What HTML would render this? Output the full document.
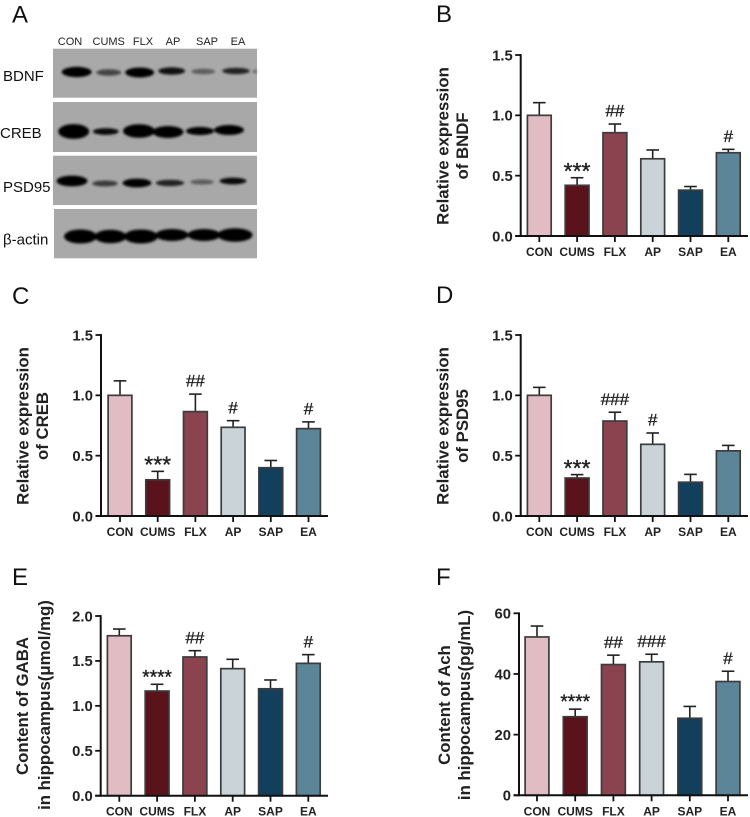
<!DOCTYPE html>
<html lang="en">
<head>
<meta charset="utf-8">
<title>Western blot and bar charts</title>
<style>
html,body{margin:0;padding:0;background:#fff;}
svg{display:block;font-family:"Liberation Sans",Arial,sans-serif;filter:blur(0.35px);}
.letter{font-size:24px;fill:#111;}
.lane{font-size:11px;fill:#222;text-anchor:middle;}
.row{font-size:15px;fill:#111;}
.title{font-size:16.8px;font-weight:bold;fill:#222;text-anchor:middle;}
</style>
</head>
<body>
<svg id="fig" xmlns="http://www.w3.org/2000/svg" width="750" height="817" viewBox="0 0 750 817">
<defs><filter id="soft" x="-30%" y="-60%" width="160%" height="220%"><feGaussianBlur stdDeviation="1.2"/></filter></defs>
<rect width="750" height="817" fill="#fff"/>

<text class="letter" x="12" y="22.5">A</text>
<text class="letter" x="436" y="22">B</text>
<text class="letter" x="12" y="304">C</text>
<text class="letter" x="436" y="303">D</text>
<text class="letter" x="12" y="585">E</text>
<text class="letter" x="436" y="585">F</text>

<g>
<text class="lane" x="70" y="45">CON</text>
<text class="lane" x="108.7" y="45">CUMS</text>
<text class="lane" x="143" y="45">FLX</text>
<text class="lane" x="173" y="45">AP</text>
<text class="lane" x="207" y="45">SAP</text>
<text class="lane" x="238" y="45">EA</text>

<text class="row" x="3" y="81">BDNF</text>
<text class="row" x="0" y="138">CREB</text>
<text class="row" x="3" y="192">PSD95</text>
<text class="row" x="3" y="244.5">β-actin</text>

<rect x="53" y="48.7" width="204" height="49" fill="#a9a9a9"/>
<rect x="53" y="102" width="204" height="50" fill="#a8a8a8"/>
<rect x="53" y="155.7" width="204" height="49.3" fill="#a8a8a8"/>
<rect x="54" y="209" width="203" height="49.3" fill="#a9a9a9"/>

<g filter="url(#soft)" fill="#000">
<ellipse cx="76.7" cy="72" rx="15" ry="5.2" />
<ellipse cx="108.7" cy="72.5" rx="12.5" ry="3.2" opacity=".6"/>
<ellipse cx="139.7" cy="72.5" rx="14.5" ry="5"/>
<ellipse cx="171.7" cy="71" rx="13.5" ry="3.7" opacity=".9"/>
<ellipse cx="203.3" cy="71.5" rx="12" ry="2.7" opacity=".45"/>
<ellipse cx="236" cy="71" rx="13.8" ry="3.2" opacity=".8"/>
<ellipse cx="255" cy="71.5" rx="2" ry="2" opacity=".4"/>

<ellipse cx="73.7" cy="131.5" rx="15.5" ry="7.4"/>
<ellipse cx="105.8" cy="131.5" rx="13" ry="3.4" opacity=".95"/>
<ellipse cx="139" cy="131" rx="16" ry="6.8"/>
<ellipse cx="168" cy="132" rx="15.5" ry="6"/>
<ellipse cx="200" cy="131" rx="14" ry="4.1"/>
<ellipse cx="229" cy="130" rx="15" ry="5"/>

<ellipse cx="72" cy="181" rx="15.5" ry="5.4"/>
<ellipse cx="105" cy="183.5" rx="12.8" ry="3" opacity=".65"/>
<ellipse cx="137" cy="183" rx="14.5" ry="4.4"/>
<ellipse cx="170" cy="183" rx="14.2" ry="3.2" opacity=".8"/>
<ellipse cx="202" cy="182" rx="11.8" ry="2.6" opacity=".45"/>
<ellipse cx="233" cy="181" rx="13.5" ry="3.4" opacity=".95"/>

<ellipse cx="80.5" cy="236.5" rx="16.5" ry="7"/>
<ellipse cx="110.5" cy="236.5" rx="16" ry="6.7"/>
<ellipse cx="141" cy="236.5" rx="17" ry="7"/>
<ellipse cx="172" cy="235" rx="16.5" ry="6"/>
<ellipse cx="204" cy="235" rx="16.5" ry="6"/>
<ellipse cx="235" cy="235" rx="17.5" ry="6.7"/>
</g>
</g>

<text class="title" transform="translate(448.5,146) rotate(-90)">Relative expression</text>
<text class="title" transform="translate(468,146) rotate(-90)">of BNDF</text>
<text class="title" transform="translate(28.5,426) rotate(-90)">Relative expression</text>
<text class="title" transform="translate(48,426) rotate(-90)">of CREB</text>
<text class="title" transform="translate(448.5,426) rotate(-90)">Relative expression</text>
<text class="title" transform="translate(468,426) rotate(-90)">of PSD95</text>
<text class="title" transform="translate(28,706) rotate(-90)">Content of GABA</text>
<text class="title" transform="translate(50,705) rotate(-90)">in hippocampus(μmol/mg)</text>
<text class="title" transform="translate(450,705) rotate(-90)">Content of Ach</text>
<text class="title" transform="translate(470,705) rotate(-90)">in hippocampus(pg/mL)</text>

<g id="charts"></g>
</svg>

<script>
const categories = ['CON', 'CUMS', 'FLX', 'AP', 'SAP', 'EA'];
const barColors = ['#e2bcc3', '#5a121b', '#8a434f', '#c9d3d8', '#123f5c', '#5c8599'];

const ticksExpression = [0, 0.5, 1.0, 1.5];
const ticksGaba = [0, 0.5, 1.0, 1.5, 2.0];
const ticksAch = [0, 20, 40, 60];

const bdnfMeans = [1.0, 0.42, 0.856, 0.64, 0.38, 0.69];
const bdnfErrorTops = [1.105, 0.483, 0.928, 0.713, 0.41, 0.718];
const bdnfMarks = ['', '***', '##', '', '', '#'];

const crebMeans = [1.0, 0.30, 0.865, 0.735, 0.40, 0.724];
const crebErrorTops = [1.12, 0.37, 1.01, 0.79, 0.46, 0.78];
const crebMarks = ['', '***', '##', '#', '', '#'];

const psd95Means = [1.0, 0.315, 0.787, 0.594, 0.28, 0.54];
const psd95ErrorTops = [1.066, 0.343, 0.86, 0.688, 0.345, 0.585];
const psd95Marks = ['', '***', '###', '#', '', ''];

const gabaMeans = [1.78, 1.165, 1.544, 1.414, 1.19, 1.473];
const gabaErrorTops = [1.855, 1.24, 1.614, 1.518, 1.288, 1.57];
const gabaMarks = ['', '****', '##', '', '', '#'];

const achMeans = [52.2, 25.9, 43.1, 44.0, 25.4, 37.5];
const achErrorTops = [55.8, 28.4, 46.2, 46.5, 29.3, 40.9];
const achMarks = ['', '****', '##', '###', '', '#'];

const SVGNS = 'http://www.w3.org/2000/svg';
const chartsRoot = document.getElementById('charts');

function add(tag, attrs, parent) {
  const node = document.createElementNS(SVGNS, tag);
  for (const key in attrs) node.setAttribute(key, attrs[key]);
  parent.appendChild(node);
  return node;
}

function drawPanel(id, means, tops, marks, ticks, decimals, box) {
  const yOf = v => box.y0 - (v / ticks[ticks.length - 1]) * (box.y0 - box.yTop);
  const xOf = i => box.x0 + i * box.step;

  const panel = add('g', {}, chartsRoot);
  
  

  means.forEach((value, i) => {
    const cx = xOf(i);
    const errTop = yOf(tops[i]);
    const top = yOf(value);

    const stem = add('line', {x1: cx, x2: cx, y1: top, y2: errTop, stroke: '#222', 'stroke-width': 1.6}, panel);
    
    

    const cap = add('line', {x1: cx - 6.3, x2: cx + 6.3, y1: errTop, y2: errTop, stroke: '#222', 'stroke-width': 1.6}, panel);
    
    

    const bar = add('rect', {x: cx - 11.9, y: top, width: 23.8, height: box.y0 - top, fill: barColors[i], stroke: '#3c3c3c', 'stroke-width': 1.7}, panel);
    
    

    const xTick = add('line', {x1: cx, x2: cx, y1: box.y0, y2: box.y0 + 6, stroke: '#111', 'stroke-width': 1.8}, panel);
    
    

    const xLabel = add('text', {x: cx, y: box.y0 + 20, 'text-anchor': 'middle', 'font-size': 12, 'font-weight': 'bold', fill: '#222'}, panel);
    xLabel.textContent = categories[i];
    
    

    if (marks[i]) {
      const stars = marks[i][0] === '*';
      const size = stars ? (marks[i].length === 4 ? 19 : 23) : 17;
      const baseline = stars ? errTop - 12 + size * 0.58 : errTop - 13.5 + size * 0.36;
      const mark = add('text', {x: cx, y: baseline, 'text-anchor': 'middle', 'font-size': size, fill: '#222', stroke: '#222', 'stroke-width': 0.35}, panel);
      mark.textContent = marks[i];
      
      
    }
  });

  const yAxis = add('line', {x1: box.axisX, x2: box.axisX, y1: box.yTop - 0.9, y2: box.y0 + 0.9, stroke: '#111', 'stroke-width': 2}, panel);
  
  

  const xAxis = add('line', {x1: box.axisX - 5.5, x2: box.axisEnd, y1: box.y0, y2: box.y0, stroke: '#111', 'stroke-width': 2}, panel);
  
  

  ticks.forEach(t => {
    const tick = add('line', {x1: box.axisX - 5.5, x2: box.axisX, y1: yOf(t), y2: yOf(t), stroke: '#111', 'stroke-width': 1.8}, panel);
    
    

    const label = add('text', {x: box.axisX - 8, y: yOf(t) + 5.3, 'text-anchor': 'end', 'font-size': 14.8, 'font-weight': 'bold', fill: '#222'}, panel);
    label.textContent = t.toFixed(decimals);
    
    
  });
}

drawPanel('bdnf', bdnfMeans, bdnfErrorTops, bdnfMarks, ticksExpression, 1,
  {axisX: 520.7, axisEnd: 748, x0: 539.3, step: 37.8, y0: 236, yTop: 55});
drawPanel('creb', crebMeans, crebErrorTops, crebMarks, ticksExpression, 1,
  {axisX: 101, axisEnd: 328, x0: 120, step: 37.7, y0: 516, yTop: 335});
drawPanel('psd95', psd95Means, psd95ErrorTops, psd95Marks, ticksExpression, 1,
  {axisX: 520.7, axisEnd: 748, x0: 539.3, step: 37.8, y0: 516, yTop: 335});
drawPanel('gaba', gabaMeans, gabaErrorTops, gabaMarks, ticksGaba, 1,
  {axisX: 100.7, axisEnd: 328, x0: 119.3, step: 37.8, y0: 795.7, yTop: 616});
drawPanel('ach', achMeans, achErrorTops, achMarks, ticksAch, 0,
  {axisX: 519, axisEnd: 748, x0: 537, step: 38.2, y0: 795.3, yTop: 613.3});
</script>
</body>
</html>
